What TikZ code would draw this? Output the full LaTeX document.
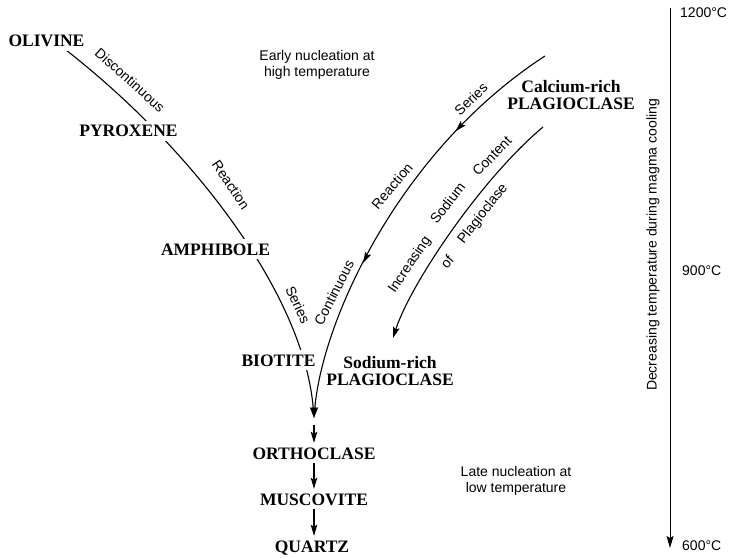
\documentclass[tikz,border=0pt]{standalone}
\usepackage{fontspec}
\setmainfont{Liberation Serif}
\setsansfont{Liberation Sans}
\newfontfamily\lblfont{Liberation Sans}
\usetikzlibrary{arrows.meta,decorations.markings,calc}

\begin{document}
\begin{tikzpicture}[x=1pt,y=-1pt,
  mineral/.style={font=\bfseries\fontsize{17.5}{17}\selectfont, text height=12pt, text depth=0pt, inner sep=4pt, fill=white},
  mineraltwo/.style={font=\bfseries\fontsize{17.5}{17}\selectfont, align=center, inner sep=0pt},
  note/.style={font=\lblfont\fontsize{14}{16.5}\selectfont, inner sep=0pt},
  notetwo/.style={note, align=center},
  tip/.tip={Stealth[length=11pt,width=6.5pt,inset=2pt]},
  flowarrow/.style={line width=1.1pt, -tip},
  midarrows/.style={postaction={decorate}, decoration={markings,
      mark=at position 0.265 with {\arrow{tip}},
      mark=at position 0.63 with {\arrow{tip}}}}
]
\useasboundingbox (0,0) rectangle (731,559);

% named points
\coordinate (olstart) at (66,50);
\coordinate (castart) at (545,56);
\coordinate (nastart) at (543,127);
\coordinate (nastop) at (393,338);
\coordinate (conv) at (314,418);
\coordinate (axtop) at (670,8);
\coordinate (axbot) at (670,548);

% main curves
\draw[flowarrow] (olstart) .. controls (200,155) and (305,300) .. (conv);
\draw[flowarrow, midarrows] (castart) .. controls (400,150) and (322,320) .. (conv);
\draw[flowarrow] (nastart) .. controls (480,180) and (410,285) .. (nastop);

% minerals
\node[mineral] (olivine) at (46.5,41) {OLIVINE};
\node[mineral] (pyroxene) at (128.5,131) {PYROXENE};
\node[mineral] (amphibole) at (215.5,249) {AMPHIBOLE};
\node[mineral] (biotite) at (278.5,360) {BIOTITE};
\node[mineraltwo] (caplag) at (571,95.5) {Calcium-rich\\PLAGIOCLASE};
\node[mineraltwo] (naplag) at (390,371) {Sodium-rich\\PLAGIOCLASE};
\node[mineral] (orth) at (314,453) {ORTHOCLASE};
\node[mineral] (musc) at (314,499) {MUSCOVITE};
\node[mineral] (qtz) at (312,546) {QUARTZ};

% straight arrows
\coordinate (convbelow) at ($(conv)+(0,7)$);
\draw[flowarrow] (convbelow) -- (convbelow |- orth.north);
\draw[flowarrow] (orth.south) -- (orth.south |- musc.north);
\draw[flowarrow] (orth.south |- musc.south) -- (orth.south |- qtz.north);

% curve labels
\node[note, rotate=-42] (lbldis) at (130,80) {Discontinuous};
\node[note, rotate=-56] (lblreal) at (231,185) {Reaction};
\node[note, rotate=-65] (lblserl) at (298,305) {Series};
\node[note, rotate=44] (lblserr) at (471,99) {Series};
\node[note, rotate=50] (lblrear) at (392,186) {Reaction};
\node[note, rotate=63] (lblcont) at (334,292.5) {Continuous};
\node[note, rotate=56] (lblinc) at (410,265) {Increasing};
\node[note, rotate=52] (lblsod) at (447.5,203) {Sodium};
\node[note, rotate=46] (lblcon) at (492,156) {Content};
\node[note, rotate=50] (lblof) at (447,262) {of};
\node[note, rotate=52] (lblplag) at (483,214) {Plagioclase};

% notes
\node[notetwo] (early) at (317,65) {Early nucleation at\\high temperature};
\node[notetwo] (late) at (516,481) {Late nucleation at\\low temperature};

% temperature axis
\draw[line width=1pt, -{Stealth[length=12pt,width=7pt,inset=2pt]}] (axtop) -- (axbot);
\node[note, anchor=west] (t1200) at (680,13) {1200°C};
\node[note, anchor=west] (t900) at (682,271) {900°C};
\node[note, anchor=west] (t600) at (682,546) {600°C};
\node[note, rotate=90] (axlbl) at (653,245) {Decreasing temperature during magma cooling};
\end{tikzpicture}
\end{document}
